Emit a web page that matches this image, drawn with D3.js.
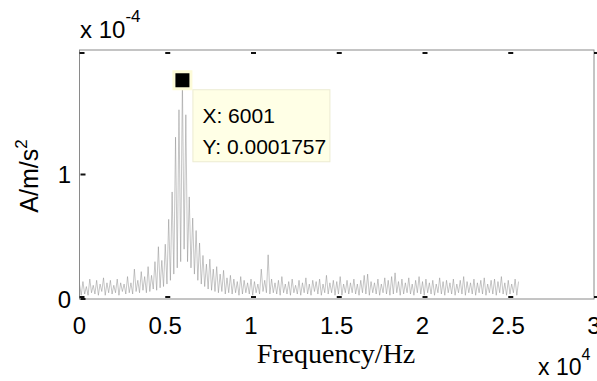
<!DOCTYPE html>
<html>
<head>
<meta charset="utf-8">
<script src="https://cdn.jsdelivr.net/npm/d3@7"></script>
<style>
  body { margin: 0; background: #fff; }
  svg { display: block; }
</style>
</head>
<body>
<div id="chart"></div>
<script>
// spectrum amplitudes, units of 1e-5 A/m/s^2, one value every 100 Hz from 0 Hz
var AMP_UNIT = 1e-5;
var FREQ_STEP = 100;
var amplitudes = [
    1.2,0.3,1.4,0.4,1.0,0.3,1.6,0.5,1.1,0.4,
    1.5,0.3,1.2,0.6,1.7,0.3,1.3,0.5,1.5,0.4,
    1.1,0.5,1.6,0.3,1.3,0.6,1.2,0.4,1.8,0.5,
    1.3,0.4,2.4,0.6,1.5,0.5,2.2,0.7,1.8,0.5,
    2.6,0.6,1.9,0.8,3.0,0.7,4.2,0.9,3.1,1.0,
    4.4,1.2,6.4,1.5,8.6,2.0,13.0,2.5,15.2,3.0,
    17.57,4.0,14.8,3.0,8.2,2.5,6.5,2.0,5.5,1.5,
    4.5,1.2,3.5,1.0,2.8,0.8,3.2,0.7,2.4,0.6,
    2.6,0.5,2.0,0.6,2.3,0.4,1.7,0.5,1.9,0.4,
    1.6,0.5,1.4,0.3,1.8,0.4,1.5,0.5,1.3,0.4,
    1.6,0.3,1.4,0.5,1.2,0.4,2.4,0.6,1.5,0.5,
    3.55,0.4,1.6,0.5,1.3,0.4,1.5,0.3,1.8,0.5,
    1.2,0.4,1.4,0.3,1.6,0.5,1.1,0.4,1.5,0.3,
    1.3,0.5,1.7,0.4,1.2,0.3,1.5,0.6,1.4,0.4,
    1.6,0.3,1.2,0.5,1.9,0.4,1.3,0.5,1.5,0.3,
    1.4,0.4,1.8,0.3,1.2,0.5,1.5,0.4,1.3,0.5,
    1.6,0.4,1.2,0.3,1.5,0.5,1.9,0.4,2.0,0.3,
    1.4,0.5,1.3,0.4,1.6,0.3,1.2,0.5,1.7,0.4,
    1.5,0.3,1.8,0.4,2.1,0.5,1.4,0.3,1.6,0.4,
    1.3,0.5,1.7,0.4,1.2,0.3,1.5,0.5,1.8,0.4,
    1.4,0.3,1.6,0.5,1.3,0.4,1.5,0.3,1.2,0.5,
    1.7,0.4,1.4,0.3,1.5,0.5,1.3,0.4,1.6,0.3,
    1.2,0.5,1.5,0.4,1.8,0.3,1.4,0.5,1.3,0.4,
    1.6,0.3,1.3,0.5,1.5,0.4,1.7,0.3,1.2,0.5,
    1.5,0.4,1.6,0.3,1.4,0.5,1.8,0.4,1.3,0.3,
    1.5,0.4,1.2,0.5,1.6,0.3,1.4
];

var xTicks = [0, 5000, 10000, 15000, 20000, 25000, 30000];
var xTickLabels = ["0", "0.5", "1", "1.5", "2", "2.5", "3"];
var yTicks = [0, 1e-4];
var yTickLabels = ["0", "1"];

// data tip
var tipX = 6001;
var tipY = 0.0001757;
var tipLines = ["X: 6001", "Y: 0.0001757"];

var width = 597, height = 381;
var margin = {top: 50, right: 3, bottom: 82, left: 79.5};

var data = amplitudes.map(function(a, i) {
    return {f: i * FREQ_STEP, a: a * AMP_UNIT};
});

var x = d3.scaleLinear().domain([0, 30000]).range([margin.left, width - margin.right]);
var y = d3.scaleLinear().domain([0, 2e-4]).range([height - margin.bottom, margin.top]);

var svg = d3.select("#chart").append("svg")
    .attr("width", width)
    .attr("height", height)
    .style("font-family", "'Liberation Sans', Arial, sans-serif");

var line = d3.line()
    .x(function(d) { return x(d.f); })
    .y(function(d) { return y(d.a); });

svg.append("path")
    .datum(data)
    .attr("d", line)
    .attr("fill", "none")
    .attr("stroke", "#8c8c8c")
    .attr("stroke-width", 0.5);

// axes box
svg.append("rect")
    .attr("x", x(0))
    .attr("y", y(2e-4))
    .attr("width", x(30000) - x(0))
    .attr("height", y(0) - y(2e-4))
    .attr("fill", "none")
    .attr("stroke", "#8a8a8a")
    .attr("stroke-width", 1);

// inward tick marks, drawn as small dark dashes like the source
var tickG = svg.append("g").attr("fill", "#111");
tickG.selectAll(".tb").data(xTicks).enter().append("rect")
    .attr("x", function(d) { return x(d); })
    .attr("y", y(0) - 3)
    .attr("width", 5).attr("height", 2);
tickG.selectAll(".tt").data(xTicks).enter().append("rect")
    .attr("x", function(d) { return x(d); })
    .attr("y", y(2e-4) + 2)
    .attr("width", 5).attr("height", 2);
tickG.selectAll(".tl").data(yTicks).enter().append("rect")
    .attr("x", x(0) + 1)
    .attr("y", function(d) { return y(d) - 1; })
    .attr("width", 5).attr("height", 2);

svg.selectAll(".xl").data(xTicks).enter().append("text")
    .attr("x", function(d) { return x(d); })
    .attr("y", 334)
    .attr("text-anchor", "middle")
    .style("font-size", "24px")
    .text(function(d, i) { return xTickLabels[i]; });

svg.selectAll(".yl").data(yTicks).enter().append("text")
    .attr("x", 71)
    .attr("y", function(d) { return y(d); })
    .attr("dy", "0.36em")
    .attr("text-anchor", "end")
    .style("font-size", "24px")
    .text(function(d, i) { return yTickLabels[i]; });

// exponent labels
var ex = svg.append("text").attr("x", 80).attr("y", 38).style("font-size", "24px");
ex.append("tspan").text("x 10");
ex.append("tspan").attr("dy", -16).style("font-size", "17px").text("-4");

var ex2 = svg.append("text").attr("x", 538).attr("y", 375).style("font-size", "23px");
ex2.append("tspan").text("x 10");
ex2.append("tspan").attr("dy", -15).style("font-size", "16px").text("4");

// axis titles
svg.append("text")
    .attr("x", 336)
    .attr("y", 363)
    .attr("text-anchor", "middle")
    .style("font-family", "'Liberation Serif', 'Times New Roman', serif")
    .style("font-size", "28px")
    .text("Frequency/Hz");

var yt = svg.append("text")
    .attr("transform", "translate(38,176) rotate(-90)")
    .attr("text-anchor", "middle")
    .style("font-size", "25px");
yt.append("tspan").text("A/m/s");
yt.append("tspan").attr("dy", -11).style("font-size", "17px").text("2");

// data tip marker and box
var mx = x(tipX), my = y(tipY);
svg.append("rect")
    .attr("x", mx - 10).attr("y", my - 10)
    .attr("width", 20).attr("height", 20)
    .attr("fill", "#fdfbd8");
svg.append("rect")
    .attr("x", mx - 7).attr("y", my - 7)
    .attr("width", 14).attr("height", 14)
    .attr("fill", "#000");

var tip = svg.append("g").attr("transform", "translate(" + (mx + 10) + "," + (my + 9) + ")");
tip.append("rect")
    .attr("x", 0.5).attr("y", 0.5)
    .attr("width", 137).attr("height", 72)
    .attr("fill", "#ffffe6")
    .attr("stroke", "#ecebd2");
tip.selectAll("text").data(tipLines).enter().append("text")
    .attr("x", 10)
    .attr("y", function(d, i) { return 34 + i * 31; })
    .style("font-size", "21px")
    .text(function(d) { return d; });
</script>
</body>
</html>
